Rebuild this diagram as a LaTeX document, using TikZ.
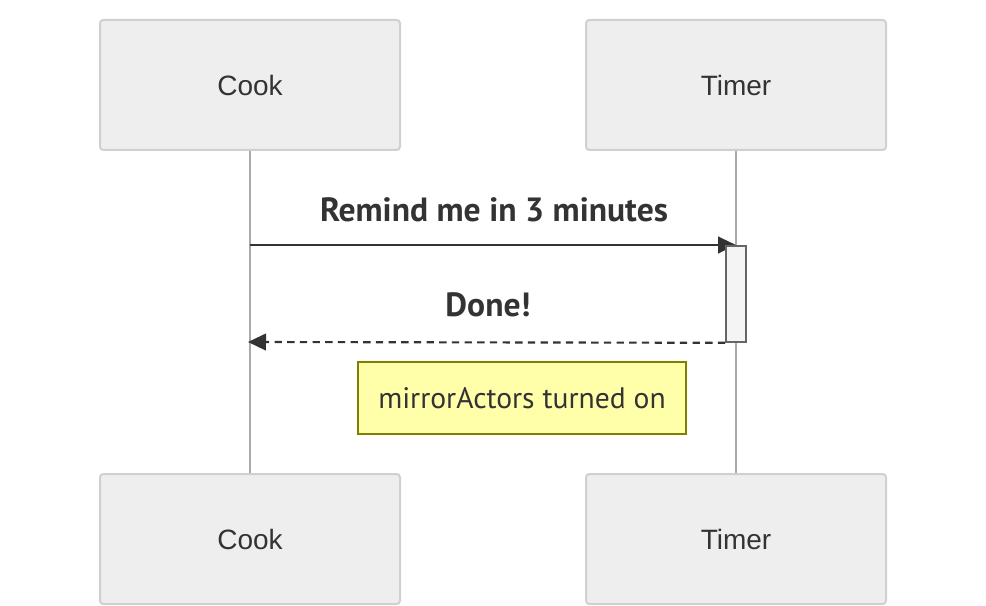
\documentclass[tikz,border=0pt]{standalone}
\usepackage{fontspec}
\setmainfont{Liberation Sans}
\newfontfamily\msgfont{PT Sans}
\usetikzlibrary{arrows.meta}
\definecolor{actfill}{HTML}{EEEEEE}
\definecolor{actdraw}{HTML}{D0D0D0}
\definecolor{lifeline}{HTML}{AAAAAA}
\definecolor{ink}{HTML}{333333}
\definecolor{notefill}{HTML}{FFFFAA}
\definecolor{notedraw}{HTML}{808000}
\definecolor{activfill}{HTML}{F4F4F4}
\definecolor{activdraw}{HTML}{666666}
\tikzset{
  actor/.style={draw=actdraw, line width=1.5pt, fill=actfill, rounded corners=2.5pt,
    minimum width=225pt, minimum height=97.5pt, inner sep=0pt, text=ink,
    font=\fontsize{21}{25}\selectfont},
  lline/.style={draw=lifeline, line width=0.9pt},
  msg/.style={draw=ink, line width=1.6pt, -{Triangle[length=13.5pt,width=12.5pt]}},
  reply/.style={msg, dash pattern=on 5.5pt off 4pt},
  msglabel/.style={text=ink, inner sep=0pt, font=\msgfont\bfseries\fontsize{25.2}{29}\selectfont},
  note/.style={draw=notedraw, line width=1.2pt, fill=notefill, minimum width=246pt,
    minimum height=54pt, inner sep=0pt, text=ink, font=\msgfont\fontsize{22.2}{26}\selectfont},
  activ/.style={draw=activdraw, line width=1.2pt, fill=activfill, minimum width=15pt,
    minimum height=72pt, inner sep=0pt}
}
\begin{document}
\begin{tikzpicture}[x=0.75pt, y=-0.75pt]
\useasboundingbox (0,0) rectangle (986,606);
\node[actor] (cookTop) at (250,85) {Cook};
\node[actor] (timerTop) at (736,85) {Timer};
\node[actor] (cookBot) at (250,539) {Cook};
\node[actor] (timerBot) at (736,539) {Timer};
\draw[lline] (cookTop.south) -- (cookBot.north);
\draw[lline] (timerTop.south) -- (timerBot.north);
\coordinate (m1s) at (250,245);
\coordinate (m1e) at (736,245);
\draw[msg] (m1s) -- (m1e);
\node[activ] (act) at (736,294) {};
\node[msglabel] (l1) at (494,210) {Remind me in 3 minutes};
\coordinate (m2e) at (248,342);
\draw[reply] (act.south west) -- (m2e);
\node[msglabel] (l2) at (488,305) {Done!};
\node[note] (nt) at (522,398) {mirrorActors turned on};
\end{tikzpicture}
\end{document}
